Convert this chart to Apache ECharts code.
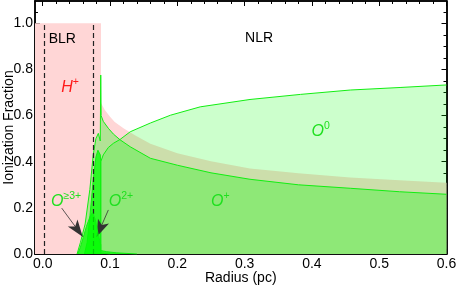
<!DOCTYPE html>
<html><head><meta charset="utf-8">
<script src="https://cdn.jsdelivr.net/npm/echarts@6/dist/echarts.min.js"></script>
<style>html,body{margin:0;padding:0;background:#fff}#c{width:458px;height:287px}</style>
</head><body><div id="c"></div>
<script>
// ---- axis ticks ----
const xTicks = [0, 0.1, 0.2, 0.3, 0.4, 0.5, 0.6];
const xTickLabels = ['0.0', '0.1', '0.2', '0.3', '0.4', '0.5', '0.6'];
const xMinorTicks = [0.02, 0.04, 0.06, 0.08, 0.12, 0.14, 0.16, 0.18, 0.22, 0.24, 0.26, 0.28, 0.32, 0.34, 0.36, 0.38, 0.42, 0.44, 0.46, 0.48, 0.52, 0.54, 0.56, 0.58];
const yTicks = [0, 0.2, 0.4, 0.6, 0.8, 1.0];
const yTickLabels = ['0.0', '0.2', '0.4', '0.6', '0.8', '1.0'];
const yMinorTicks = [0.05, 0.1, 0.15, 0.25, 0.3, 0.35, 0.45, 0.5, 0.55, 0.65, 0.7, 0.75, 0.85, 0.9, 0.95, 1.05];
const xRange = [-0.0115, 0.6];
const yRange = [0, 1.097];

// ---- region boundaries (pc) ----
const blrEdges = [0.0024, 0.0747];

// ---- ionization fractions [radius, fraction] ----
const hPlus = [[-0.0115, 1.0], [0.0866, 1.0], [0.0866, 0.655], [0.092, 0.625], [0.1, 0.595], [0.107, 0.572], [0.12, 0.545], [0.137, 0.515], [0.16, 0.478], [0.2, 0.437], [0.25, 0.402], [0.308, 0.371], [0.38, 0.35], [0.457, 0.332], [0.53, 0.32], [0.6, 0.309]];
const oNeutral = [[0.0862, 0], [0.0862, 0.40], [0.09, 0.43], [0.0975, 0.462], [0.105, 0.48], [0.115, 0.497], [0.13, 0.53], [0.16, 0.568], [0.19, 0.602], [0.234, 0.638], [0.308, 0.670], [0.383, 0.692], [0.457, 0.711], [0.531, 0.722], [0.6, 0.733]];
const oPlus = [[0.051, 0], [0.056, 0.05], [0.063, 0.13], [0.070, 0.28], [0.075, 0.43], [0.079, 0.50], [0.0826, 0.523], [0.0855, 0.49], [0.0862, 0.776], [0.0868, 0.60], [0.09, 0.575], [0.0975, 0.545], [0.105, 0.52], [0.115, 0.495], [0.13, 0.465], [0.16, 0.415], [0.2, 0.385], [0.25, 0.352], [0.308, 0.324], [0.38, 0.30], [0.457, 0.285], [0.53, 0.27], [0.6, 0.259]];
const o2Plus = [[0.062, 0], [0.066, 0.05], [0.070, 0.16], [0.075, 0.32], [0.079, 0.42], [0.082, 0.45], [0.0855, 0.43], [0.0862, 0.40], [0.0862, 0.015], [0.095, 0.01], [0.11, 0.005], [0.14, 0]];
const o3Plus = [[0.052, 0], [0.056, 0.03], [0.06, 0.07], [0.065, 0.12], [0.07, 0.16], [0.074, 0.18], [0.078, 0.15], [0.082, 0.09], [0.0862, 0.04], [0.0862, 0.005], [0.1, 0]];

// ---- annotations (data coords) ----
const arrowO3 = [[0.0282, 0.199], [0.0594, 0.075]];
const arrowO2 = [[0.0975, 0.191], [0.0802, 0.075]];
const labels = [
  {pos: [0.029, 0.932], text: 'BLR', kind: 'plain'},
  {pos: [0.3215, 0.936], text: 'NLR', kind: 'plain'},
  {pos: [0.0406, 0.728], base: 'H', sup: '+', color: '#ff1a1a'},
  {pos: [0.413, 0.537], base: 'O', sup: '0', color: '#1fe01f'},
  {pos: [0.264, 0.234], base: 'O', sup: '+', color: '#1fe01f'},
  {pos: [0.0346, 0.232], base: 'O', sup: '≥3+', color: '#1fe01f'},
  {pos: [0.1163, 0.232], base: 'O', sup: '2+', color: '#1fe01f'}
];

const FONT = '"Liberation Sans", Arial, Helvetica, sans-serif';
const GREEN_LINE = '#12ee12';

function xAxisDef(pos, ticks, len, withLabels) {
  return {
    type: 'value', position: pos, min: xRange[0], max: xRange[1],
    axisLine: {show: true, onZero: false, lineStyle: {color: '#000', width: 1.5}},
    axisTick: {show: true, inside: true, length: len, customValues: ticks, lineStyle: {color: '#000', width: 1}},
    axisLabel: withLabels ? {show: true, customValues: xTicks, margin: 3, color: '#000', fontSize: 14, fontFamily: FONT,
      formatter: v => xTickLabels[xTicks.findIndex(t => Math.abs(t - v) < 1e-9)]} : {show: false},
    splitLine: {show: false},
    name: withLabels ? 'Radius (pc)' : '', nameLocation: 'middle', nameGap: 17, nameMoveOverlap: false,
    nameTextStyle: {color: '#000', fontSize: 14, fontFamily: FONT}
  };
}
function yAxisDef(pos, ticks, len, withLabels) {
  return {
    type: 'value', position: pos, min: yRange[0], max: yRange[1],
    axisLine: {show: true, onZero: false, lineStyle: {color: '#000', width: 1.5}},
    axisTick: {show: true, inside: true, length: len, customValues: ticks, lineStyle: {color: '#000', width: 1}},
    axisLabel: withLabels ? {show: true, customValues: yTicks, margin: 2, color: '#000', fontSize: 14, fontFamily: FONT,
      formatter: v => yTickLabels[yTicks.findIndex(t => Math.abs(t - v) < 1e-9)]} : {show: false},
    splitLine: {show: false},
    name: withLabels ? 'Ionization Fraction' : '', nameLocation: 'middle', nameGap: 19, nameMoveOverlap: false,
    nameTextStyle: {color: '#000', fontSize: 14, fontFamily: FONT}
  };
}

function areaSeries(name, data, fill, lineColor, z) {
  return {
    name, type: 'line', data, z, symbol: 'none', silent: true, animation: false,
    lineStyle: lineColor ? {color: lineColor, width: 1} : {width: 0, opacity: 0},
    areaStyle: {color: fill, opacity: 1, origin: 'start'}
  };
}

const chart = echarts.init(document.getElementById('c'), null, {renderer: 'canvas'});
const option = {
  animation: false,
  grid: {left: 35, right: 11.5, top: 1, bottom: 33, containLabel: false, outerBoundsMode: 'none'},
  xAxis: [
    xAxisDef('bottom', xTicks, 5, true),
    xAxisDef('bottom', xMinorTicks, 3, false),
    xAxisDef('top', xTicks, 5, false),
    xAxisDef('top', xMinorTicks, 3, false)
  ],
  yAxis: [
    yAxisDef('left', yTicks, 5, true),
    yAxisDef('left', yMinorTicks, 3, false),
    yAxisDef('right', yTicks, 5, false),
    yAxisDef('right', yMinorTicks, 3, false)
  ],
  series: [
    areaSeries('H+', hPlus, 'rgb(255,214,214)', null, 1),
    areaSeries('O0', oNeutral, 'rgba(0,255,0,0.2)', GREEN_LINE, 2),
    areaSeries('O+', oPlus, 'rgba(0,255,0,0.3)', GREEN_LINE, 3),
    areaSeries('O2+', o2Plus, 'rgba(0,255,0,0.75)', GREEN_LINE, 4),
    areaSeries('O3+', o3Plus, 'rgba(0,255,0,0.75)', GREEN_LINE, 5),
    {
      type: 'line', data: [], z: 6, silent: true,
      markLine: {
        silent: true, animation: false, symbol: 'none', label: {show: false},
        lineStyle: {color: '#222', width: 1.2, type: [5, 3]},
        data: blrEdges.map(x => [{coord: [x, 0]}, {coord: [x, 1.0]}])
      }
    },
    {
      type: 'line', data: [], z: 7, silent: true,
      markLine: {
        silent: true, animation: false, label: {show: false},
        lineStyle: {color: '#333', width: 0.8, type: 'solid'},
        symbol: ['none', 'arrow'], symbolSize: [0, 13],
        data: [arrowO3, arrowO2].map(a => [{coord: a[0]}, {coord: a[1], symbol: 'arrow', symbolSize: [9, 17], itemStyle: {color: '#000'}}])
      }
    }
  ]
};
chart.setOption(option);

const g = labels.map(l => {
  const p = chart.convertToPixel({xAxisIndex: 0, yAxisIndex: 0}, l.pos);
  if (l.kind === 'plain') {
    return {type: 'text', x: p[0], y: p[1], z: 100,
      style: {text: l.text, fill: '#000', font: '14px ' + FONT, align: 'center', verticalAlign: 'middle'}};
  }
  return {type: 'text', x: p[0], y: p[1], z: 100,
    style: {
      text: '{b|' + l.base + '}{s|' + l.sup + '}', align: 'center', verticalAlign: 'middle',
      rich: {
        b: {fontSize: 16, fontStyle: 'italic', fontFamily: FONT, fill: l.color, verticalAlign: 'bottom', lineHeight: 19},
        s: {fontSize: 10.5, fontFamily: FONT, fill: l.color, verticalAlign: 'top', lineHeight: 19}
      }
    }};
});
chart.setOption({graphic: g});
</script></body></html>
